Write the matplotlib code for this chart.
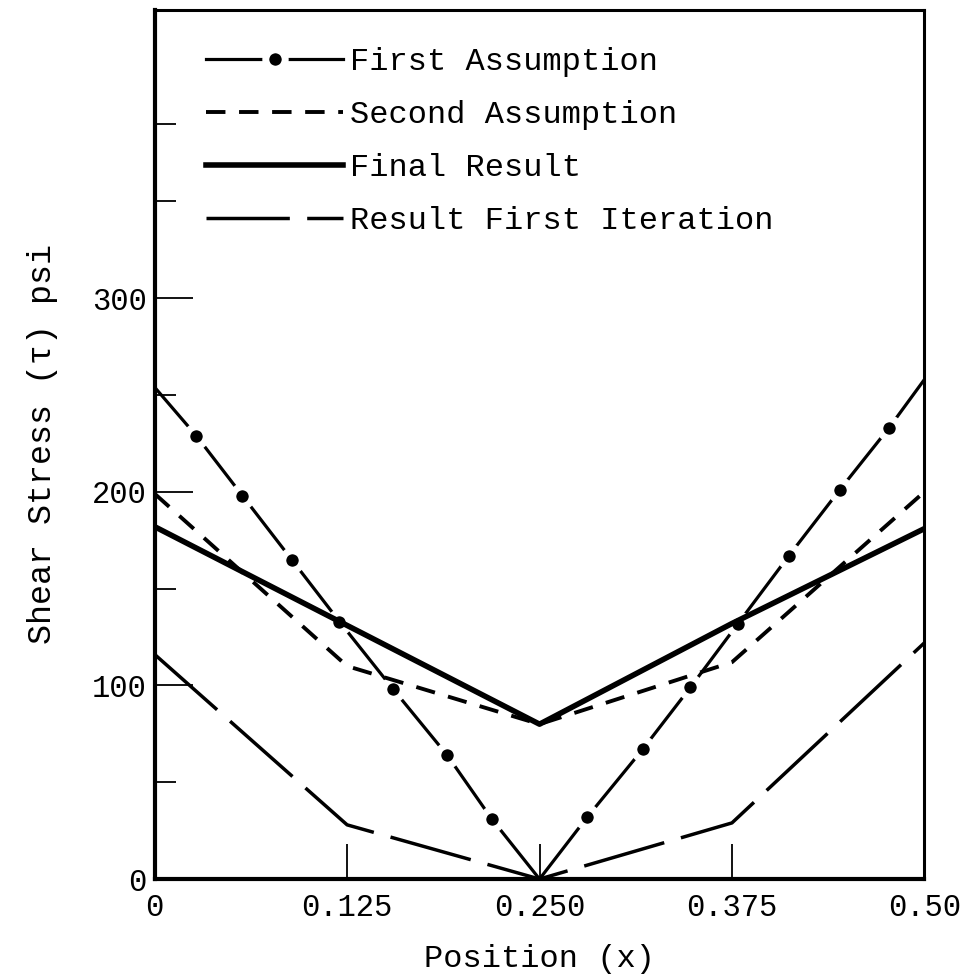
import matplotlib
matplotlib.use("Agg")
import matplotlib.pyplot as plt

plt.rcParams['font.family'] = ['Liberation Mono', 'DejaVu Sans Mono']

# values
fa_x = [0, 0.027, 0.057, 0.089, 0.120, 0.155, 0.190, 0.219, 0.25,
        0.281, 0.317, 0.348, 0.379, 0.412, 0.445, 0.477, 0.5]
fa_y = [254, 229, 198, 165, 133, 98, 64, 31, 0,
        32, 67, 99, 132, 167, 201, 233, 258]
fa_marks = [1, 2, 3, 4, 5, 6, 7, 9, 10, 11, 12, 13, 14, 15]

sa_x = [0, 0.125, 0.25, 0.375, 0.5]
sa_y = [199, 110, 80, 112, 200]

fr_x = [0, 0.125, 0.25, 0.375, 0.5]
fr_y = [182, 131, 80, 132, 181]

rf_x = [0, 0.125, 0.25, 0.375, 0.5]
rf_y = [116, 28, 0, 29, 122]

labels = ["First Assumption", "Second Assumption", "Final Result",
          "Result First Iteration"]
xticks = [0, 0.125, 0.25, 0.375, 0.5]
xticklabels = ["0", "0.125", "0.250", "0.375", "0.50"]
yticks = [0, 100, 200, 300]
yminor = [50, 150, 250, 350, 390]

fig = plt.figure(figsize=(9.73, 9.8), dpi=100)
ax = fig.add_axes([0.159, 0.103, 0.791, 0.887])

# white marker edge leaves the small gap round each dot
ax.plot(fa_x, fa_y, color='k', lw=2.3, marker='o', ms=14,
        markevery=fa_marks, mfc='k', mec='white', mew=5, label=labels[0])
ax.plot(sa_x, sa_y, color='k', lw=2.8, ls=(0, (5, 3.5)), label=labels[1])
ax.plot(fr_x, fr_y, color='k', lw=4, label=labels[2])
ax.plot(rf_x, rf_y, color='k', lw=2.5, ls=(0, (24, 5)), label=labels[3])

ax.set_xlim(0, 0.5)
ax.set_ylim(0, 449)

ax.set_xticks(xticks)
ax.set_xticklabels(xticklabels)
ax.set_yticks(yticks)
ax.set_yticks(yminor, minor=True)
ax.tick_params(axis='x', which='major', direction='in', length=25, width=1.3,
               labelsize=22, pad=10)
ax.tick_params(axis='y', which='major', direction='in', length=27, width=1.3,
               labelsize=22, pad=6)
ax.tick_params(axis='y', which='minor', direction='in', length=15, width=1.3)

for side in ['left', 'bottom']:
    ax.spines[side].set_linewidth(3)
for side in ['top', 'right']:
    ax.spines[side].set_linewidth(2.2)

ax.set_xlabel("Position (x)", fontsize=23, labelpad=15)
ax.set_ylabel("Shear Stress (\u03c4) psi", fontsize=24, labelpad=24)

leg = ax.legend(loc='upper left', bbox_to_anchor=(0.05, 0.972), frameon=False,
                fontsize=23, handlelength=4.3, handletextpad=0.2,
                labelspacing=0.72, borderaxespad=0)

fig.savefig("out.png", dpi=100)
